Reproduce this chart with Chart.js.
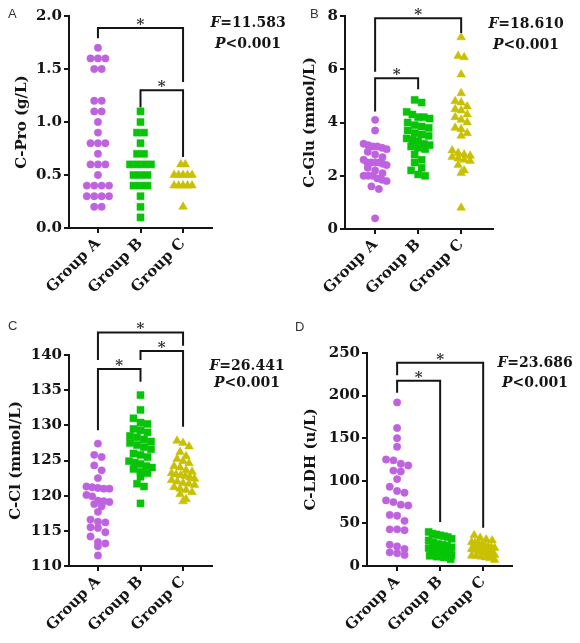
<!DOCTYPE html>
<html>
<head>
<meta charset="utf-8">
<script src="https://cdn.jsdelivr.net/npm/chart.js@4.4.0/dist/chart.umd.min.js"></script>
<style>
html, body { margin: 0; padding: 0; background: #fff; }
#wrap { position: relative; width: 580px; height: 643px; overflow: hidden; }
#wrap canvas { position: absolute; }
</style>
</head>
<body>
<div id="wrap">
  <canvas id="pA" width="290" height="320" style="left:0;top:0"></canvas>
  <canvas id="pB" width="290" height="320" style="left:290px;top:0"></canvas>
  <canvas id="pC" width="290" height="323" style="left:0;top:320px"></canvas>
  <canvas id="pD" width="290" height="323" style="left:290px;top:320px"></canvas>
</div>
<script>
// groupes et valeurs
const groups = ['Group A', 'Group B', 'Group C'];

// A : C-Pro (g/L)
const proA = [1.7, 1.6, 1.6, 1.6, 1.5, 1.5, 1.2, 1.2, 1.1, 1.1, 1.0, 0.9, 0.8, 0.8, 0.8,
              0.7, 0.6, 0.6, 0.6, 0.5, 0.4, 0.4, 0.4, 0.4, 0.3, 0.3, 0.3, 0.3, 0.2, 0.2];
const proB = [1.1, 1.0, 0.9, 0.9, 0.8, 0.7, 0.7, 0.6, 0.6, 0.6, 0.6, 0.5, 0.5, 0.5,
              0.4, 0.4, 0.4, 0.3, 0.2, 0.1];
const proC = [0.6, 0.6, 0.5, 0.5, 0.5, 0.5, 0.5, 0.4, 0.4, 0.4, 0.4, 0.4, 0.2];
const proTicks = [0, 0.5, 1.0, 1.5, 2.0];

// B : C-Glu (mmol/L)
const gluA = [4.1, 3.7, 3.2, 3.15, 3.1, 3.1, 3.05, 3.0, 2.9, 2.8, 2.7, 2.6, 2.5, 2.5, 2.5,
              2.5, 2.45, 2.4, 2.3, 2.2, 2.1, 2.0, 2.0, 2.0, 1.9, 1.85, 1.8, 1.6, 1.5, 0.4];
const gluB = [4.85, 4.75, 4.4, 4.3, 4.2, 4.2, 4.15, 4.0, 3.9, 3.85, 3.8, 3.7, 3.6, 3.55, 3.5,
              3.4, 3.35, 3.3, 3.2, 3.15, 3.1, 3.05, 3.0, 2.8, 2.6, 2.5, 2.3, 2.2, 2.05, 2.0];
const gluC = [7.2, 6.5, 6.45, 5.8, 5.1, 4.8, 4.75, 4.6, 4.5, 4.45, 4.3, 4.2, 4.1, 4.0, 3.8,
              3.75, 3.6, 3.5, 2.95, 2.85, 2.8, 2.75, 2.7, 2.65, 2.6, 2.55, 2.4, 2.2, 2.1, 0.8];
const gluTicks = [0, 2, 4, 6, 8];

// C : C-Cl (mmol/L)
const clA = [127.4, 125.8, 125.5, 124.3, 123.6, 122.5, 121.3, 121.2, 121.1, 121.0, 121.0,
             120.1, 119.9, 119.3, 119.2, 119.1, 118.8, 118.5, 117.7, 116.6, 116.3, 116.2,
             115.5, 115.4, 114.8, 114.2, 113.4, 113.2, 112.8, 111.5];
const clB = [134.3, 132.2, 131.0, 130.4, 130.2, 129.5, 129.3, 129.0, 128.5, 128.3, 128.0,
             127.7, 127.5, 127.2, 126.9, 126.6, 126.0, 125.8, 125.5, 124.9, 124.7, 124.5,
             124.2, 124.0, 123.8, 123.4, 123.2, 122.7, 121.7, 121.3, 118.9];
const clC = [127.8, 127.5, 127.0, 126.2, 125.6, 125.2, 124.9, 124.6, 124.2, 124.0, 123.6,
             123.4, 123.2, 123.0, 122.9, 122.8, 122.6, 122.4, 122.2, 122.0, 121.8, 121.7,
             121.5, 121.2, 121.0, 120.8, 120.5, 120.2, 119.5, 119.2];
const clTicks = [110, 115, 120, 125, 130, 135, 140];

// D : C-LDH (u/L)
const ldhA = [192, 162, 150, 140, 125, 124, 120, 118, 112, 111, 102, 93, 88, 86, 77,
              75, 72, 71, 60, 59, 53, 43, 43, 42, 25, 23, 20, 16, 15, 13];
const ldhB = [40, 38, 37, 36, 35, 34, 32, 30, 28, 26, 25, 24, 22, 21, 20,
              20, 19, 18, 18, 17, 16, 16, 15, 14, 14, 13, 12, 11, 10, 8];
const ldhC = [36, 33, 31, 30, 28, 27, 26, 25, 24, 23, 22, 21, 20, 20, 19,
              18, 18, 17, 16, 16, 15, 14, 14, 13, 12, 12, 11, 10, 9, 7];
const ldhTicks = [0, 50, 100, 150, 200, 250];

const fStats = ['11.583', '18.610', '26.441', '23.686'];
const pStats = ['<0.001', '<0.001', '<0.001', '<0.001'];

const COLORS = ['#bf62e0', '#08c408', '#c8c000'];
const SHAPES = ['circle', 'rect', 'triangle'];
const RADII = [3.7, 5.0, 5.0];
const GAPS = [7.4, 7.0, 6.0];
const MAX_HALF = 11.5;
const SERIF = '"DejaVu Serif", serif';
const INK = '#151515';

// brackets : [groupe gauche, groupe droit, haut, pied gauche, pied droit] en unités de l'axe y
const panels = [
  { id: 'pA', letter: 'A', lx: 8, ly: 18, title: 'C-Pro (g/L)', titlePad: 13,
    values: [proA, proB, proC], ticks: proTicks, fmt: v => v.toFixed(1),
    xmin: -0.68, xmax: 2.68, yw: 69, xh: 92, top: 16, right: 78, spacing: [7.4, 7.0, 4.5],
    brackets: [[0, 2, 1.887, 1.79, 1.377], [1, 2, 1.30, 1.14, 0.67]],
    sx: 248, sy: [27, 48], stat: 0 },
  { id: 'pB', letter: 'B', lx: 20, ly: 18, title: 'C-Glu (mmol/L)', titlePad: 11,
    values: [gluA, gluB, gluC], ticks: gluTicks, fmt: v => String(v),
    xmin: -0.70, xmax: 2.74, yw: 55, xh: 91, top: 16, right: 87, spacing: GAPS,
    brackets: [[0, 2, 7.92, 5.91, 7.36], [0, 1, 5.66, 4.41, 5.25]],
    sx: 236, sy: [28, 49], stat: 1 },
  { id: 'pC', letter: 'C', lx: 8, ly: 10, title: 'C-Cl (mmol/L)', titlePad: 7,
    values: [clA, clB, clC], ticks: clTicks, fmt: v => String(v),
    xmin: -0.68, xmax: 2.68, yw: 69, xh: 77, top: 35, right: 78, spacing: GAPS,
    brackets: [[0, 2, 143.2, 139.3, 141.3], [1, 2, 140.57, 139.3, 129.8], [0, 1, 138.0, 129.3, 136.2]],
    sx: 247, sy: [50, 67], stat: 2 },
  { id: 'pD', letter: 'D', lx: 5, ly: 11, title: 'C-LDH (u/L)', titlePad: 12,
    values: [ldhA, ldhB, ldhC], ticks: ldhTicks, fmt: v => String(v),
    xmin: -0.70, xmax: 2.67, yw: 77, xh: 77, top: 33, right: 68, spacing: GAPS,
    brackets: [[0, 2, 238.6, 224, 45], [0, 1, 217.5, 203.4, 51.6]],
    sx: 245, sy: [47, 67], stat: 3 }
];

const decorPlugin = {
  id: 'decor',
  afterDraw(chart) {
    const p = chart.options.plugins.decor.panel;
    const ctx = chart.ctx, xs = chart.scales.x, ys = chart.scales.y;
    ctx.save();
    // crochets de significativité
    ctx.strokeStyle = INK; ctx.lineWidth = 2; ctx.lineJoin = 'miter';
    ctx.fillStyle = '#333';
    p.brackets.forEach(b => {
      const x1 = xs.getPixelForValue(b[0]), x2 = xs.getPixelForValue(b[1]);
      const yt = ys.getPixelForValue(b[2]);
      ctx.beginPath();
      ctx.moveTo(x1, ys.getPixelForValue(b[3]));
      ctx.lineTo(x1, yt); ctx.lineTo(x2, yt);
      ctx.lineTo(x2, ys.getPixelForValue(b[4]));
      ctx.stroke();
      ctx.font = 'bold 15px ' + SERIF; ctx.textAlign = 'center'; ctx.textBaseline = 'alphabetic';
      ctx.fillText('*', (x1 + x2) / 2, yt + 1);
    });
    // lettre du panneau
    ctx.fillStyle = '#333'; ctx.textAlign = 'left';
    ctx.font = '13px "Liberation Sans", Arial, sans-serif';
    ctx.fillText(p.letter, p.lx, p.ly);
    // F et P
    ctx.fillStyle = INK;
    drawStat(ctx, p.sx, p.sy[0], 'F', '=' + fStats[p.stat]);
    drawStat(ctx, p.sx, p.sy[1], 'P', pStats[p.stat]);
    ctx.restore();
  }
};

function drawStat(ctx, cx, y, ital, rest) {
  const fi = 'italic bold 14px ' + SERIF, fb = 'bold 14px ' + SERIF;
  ctx.font = fi; const w1 = ctx.measureText(ital).width;
  ctx.font = fb; const w2 = ctx.measureText(rest).width;
  const x0 = cx - (w1 + w2) / 2;
  ctx.textAlign = 'left';
  ctx.font = fi; ctx.fillText(ital, x0, y);
  ctx.font = fb; ctx.fillText(rest, x0 + w1, y);
}

// disposition en rangées centrées (façon nuage de points GraphPad)
function swarm(chart, p) {
  const xs = chart.scales.x, ys = chart.scales.y;
  p.values.forEach((vals, g) => {
    const d = GAPS[g], step = p.spacing[g];
    const pts = vals.map(v => ({ v, py: ys.getPixelForValue(v) })).sort((a, b) => a.py - b.py);
    const rows = [];
    pts.forEach(pt => {
      const r = rows[rows.length - 1];
      if (r && pt.py - r[0].py < d) r.push(pt); else rows.push([pt]);
    });
    const cx = xs.getPixelForValue(g);
    const out = [];
    rows.forEach(r => {
      const n = r.length;
      const sp = n > 1 ? Math.min(step, 2 * MAX_HALF / (n - 1)) : 0;
      r.forEach((pt, i) => out.push({ x: xs.getValueForPixel(cx + (i - (n - 1) / 2) * sp), y: pt.v }));
    });
    chart.data.datasets[g].data = out;
  });
  chart.update('none');
}

function makePanel(p) {
  const tickFont = { family: SERIF, size: 15, weight: 'bold' };
  const axisGrid = { display: true, drawOnChartArea: false, drawTicks: true, tickLength: 5, color: INK, lineWidth: 2 };
  const chart = new Chart(document.getElementById(p.id), {
    type: 'scatter',
    data: {
      datasets: p.values.map((vals, g) => ({
        data: vals.map(v => ({ x: g, y: v })),
        pointStyle: SHAPES[g],
        pointRadius: RADII[g],
        backgroundColor: COLORS[g],
        borderColor: COLORS[g],
        borderWidth: 0.5
      }))
    },
    options: {
      responsive: false,
      animation: false,
      events: [],
      layout: { padding: { top: p.top, right: p.right, left: 0, bottom: 0 } },
      plugins: { legend: { display: false }, tooltip: { enabled: false }, decor: { panel: p } },
      scales: {
        x: {
          type: 'linear', min: p.xmin, max: p.xmax,
          afterBuildTicks: s => { s.ticks = groups.map((_, i) => ({ value: i })); },
          afterFit: s => { s.height = p.xh; },
          ticks: { callback: v => groups[v], minRotation: 45, maxRotation: 45, autoSkip: false,
                   font: tickFont, color: INK, padding: 2 },
          grid: axisGrid,
          border: { display: true, color: INK, width: 2 }
        },
        y: {
          min: p.ticks[0], max: p.ticks[p.ticks.length - 1],
          afterBuildTicks: s => { s.ticks = p.ticks.map(v => ({ value: v })); },
          afterFit: s => { s.width = p.yw; },
          ticks: { callback: v => p.fmt(v), font: tickFont, color: INK, padding: 2 },
          grid: axisGrid,
          border: { display: true, color: INK, width: 2 },
          title: { display: true, text: p.title, color: INK,
                   font: { family: SERIF, size: 15, weight: 'bold' },
                   padding: { top: p.titlePad, bottom: 0 } }
        }
      }
    },
    plugins: [decorPlugin]
  });
  swarm(chart, p);
}

panels.forEach(makePanel);
</script>
</body>
</html>
